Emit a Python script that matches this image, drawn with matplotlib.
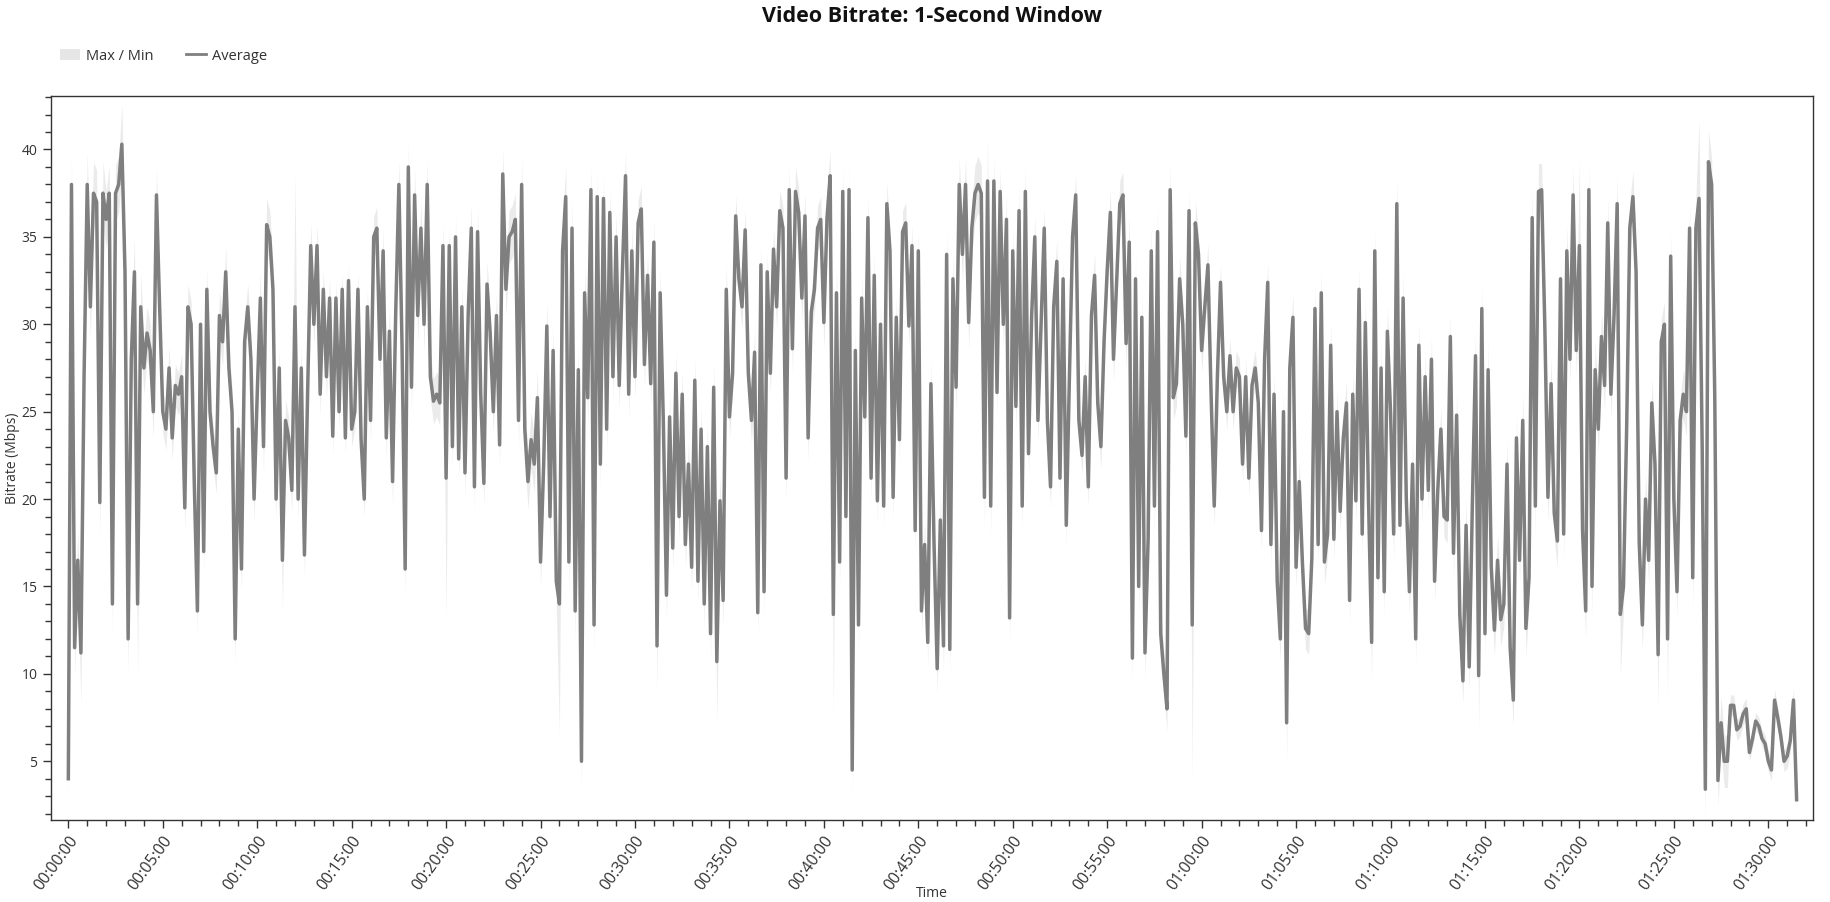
import numpy as np
import matplotlib
matplotlib.use("Agg")
import matplotlib.pyplot as plt
from matplotlib.patches import Patch
from matplotlib.lines import Line2D
from matplotlib.ticker import MultipleLocator, FuncFormatter

plt.rcParams["font.family"] = ["Open Sans", "DejaVu Sans"]

# average bitrate (Mbps), one value per 10 s, one row per minute
avg_mbps = [
    4.0, 38, 11.5, 16.5, 11.2, 27,
    38, 31, 37.5, 37, 19.8, 37.5,
    36, 37.5, 14, 37.5, 38, 40.3,
    33, 12, 28, 33, 14, 31,
    27.5, 29.5, 28.5, 25, 37.4, 31,
    25, 24, 27.5, 23.5, 26.5, 26,
    27, 19.5, 31, 30, 21, 13.6,
    30, 17, 32, 25, 23, 21.5,
    30.5, 29, 33, 27.5, 25, 12,
    24, 16, 29, 31, 28, 20,
    26, 31.5, 23, 35.7, 35, 32,
    20, 27.5, 16.5, 24.5, 23.5, 20.5,
    31, 20, 27.5, 16.8, 26, 34.5,
    30, 34.5, 26, 32, 27, 31.5,
    23.6, 31.5, 25, 32, 23.5, 32.5,
    24, 25, 32, 23.4, 20, 31,
    24.5, 35, 35.5, 28, 34.2, 23.5,
    29.6, 21, 30.7, 38, 28.8, 16,
    39, 26.4, 37.4, 30.5, 35.5, 30,
    38, 27, 25.6, 26, 25.5, 34.5,
    21.2, 34.5, 23, 35, 22.3, 31,
    21.5, 30.5, 35.5, 20.7, 35.3, 26,
    20.9, 32.3, 29.5, 25, 30.5, 23.1,
    38.6, 32, 35, 35.3, 36, 24.5,
    38, 24, 21, 23.4, 22, 25.8,
    16.4, 22, 29.9, 19, 28.5, 15.3,
    14, 34.2, 37.3, 16.4, 35.5, 13.6,
    27.4, 5, 31.8, 25.8, 37.7, 12.8,
    37.3, 22, 37.2, 24, 36.4, 27,
    35, 26.5, 33, 38.5, 26, 34.2,
    27, 35.8, 36.6, 27.7, 32.8, 26.6,
    34.7, 11.6, 31.8, 24.5, 14.5, 24.7,
    17.2, 27.2, 19, 26, 17.4, 22,
    16.1, 26.8, 15.3, 24, 14, 23,
    12.3, 26.4, 10.7, 19.9, 14.2, 32,
    24.7, 27.2, 36.2, 32.6, 31, 35.4,
    27.2, 24.5, 28.4, 13.5, 33.4, 14.7,
    33, 27.2, 34.3, 31, 36.5, 35.5,
    21.2, 37.7, 28.6, 37.6, 36.4, 31.5,
    36.2, 23.5, 30.7, 32, 35.5, 36,
    30.1, 36.1, 38.5, 13.4, 31.8, 16.4,
    37.6, 19, 37.7, 4.5, 28.5, 12.8,
    31.5, 24.7, 36.1, 21.2, 32.8, 19.9,
    30, 19.6, 36.9, 34.2, 20.1, 30.4,
    23.4, 35.3, 35.8, 29.9, 34.5, 18.2,
    34.2, 13.6, 17.4, 11.8, 26.6, 17.4,
    10.3, 18.8, 11.6, 34, 11.4, 32.6,
    26.4, 38, 34, 38, 30.1, 35.5,
    37.5, 38, 37.5, 20.1, 38.2, 19.6,
    38.2, 26.1, 37.6, 30, 36, 13.2,
    34.2, 25.3, 36.5, 19.6, 37.6, 22.6,
    30.5, 35, 24.5, 30, 35.5, 24.5,
    20.7, 31, 33.6, 21.2, 32.6, 18.5,
    27, 35, 37.4, 24.5, 22.5, 27,
    20.7, 30.5, 32.8, 25.5, 23, 29,
    33.1, 36.4, 28, 32.5, 36.9, 37.4,
    28.9, 34.7, 10.9, 32.6, 15, 30.4,
    11.2, 17.7, 34.2, 19.6, 35.3, 12.3,
    10, 8, 37.7, 25.8, 26.6, 32.6,
    30, 23.6, 36.5, 12.8, 35.8, 34,
    28.5, 31, 33.4, 26, 19.6, 27,
    32.4, 27, 25, 28.2, 25, 27.5,
    27, 22, 27, 21.2, 26.5, 27.5,
    25.5, 18.2, 28, 32.4, 17.4, 26,
    15.3, 12, 25, 7.2, 27.5, 30.4,
    16.1, 21, 16.4, 12.6, 12.3, 16.6,
    30.9, 17.4, 31.8, 16.4, 18, 28.8,
    17.7, 25, 19.3, 23.5, 25.5, 14.2,
    26, 19.9, 32, 18, 30.1, 20,
    11.8, 34.2, 15.5, 27.5, 14.7, 29.6,
    25, 18, 36.9, 18.5, 31.5, 20.1,
    14.7, 22, 12, 28.8, 20, 27,
    20.5, 28, 15.3, 20.5, 24, 19,
    18.8, 29.3, 16.9, 24.8, 13.4, 9.6,
    18.5, 10.4, 19.7, 28.2, 9.9, 30.9,
    12.3, 27.4, 16.1, 12.5, 16.5, 13.1,
    14, 22, 11.5, 8.5, 23.5, 16.5,
    24.5, 12.6, 15.5, 36.1, 19.6, 37.6,
    37.7, 30, 20.1, 26.6, 19.2, 17.6,
    32.6, 18, 34.2, 28, 37.4, 28.5,
    34.5, 18.2, 13.6, 37.7, 15, 27.4,
    24, 29.3, 26.5, 35.8, 26, 30.5,
    36.9, 13.4, 15, 24, 35.5, 37.3,
    33, 17.5, 12.8, 20, 16.5, 25.5,
    22, 11.1, 29, 30, 12, 33.9,
    20, 14.7, 24.5, 26, 25, 35.5,
    15.5, 35.5, 37.2, 23, 3.4, 39.3,
    38, 25.8, 3.9, 7.2, 5, 5,
    8.2, 8.2, 6.8, 7, 7.7, 8,
    5.5, 6.3, 7.3, 7, 6.3, 6,
    5, 4.5, 8.5, 7.5, 6.4, 5,
    5.3, 6.2, 8.5, 2.8,
]

# width of the light max/min halo around the average, per minute (Mbps)
halo_mbps = [
    1.5, 1.8, 1.6, 2.0, 1.5, 1.2, 1.3, 1.2, 1.4, 1.3,
    1.5, 1.2, 1.3, 1.2, 1.0, 1.0, 1.2, 1.4, 1.5, 1.3,
    1.2, 1.4, 1.3, 1.5, 1.6, 1.4, 1.8, 1.5, 1.3, 1.4,
    1.3, 1.4, 1.3, 1.3, 1.5, 1.2, 1.3, 1.2, 1.4, 1.3,
    1.5, 1.4, 1.3, 1.2, 1.2, 1.3, 1.4, 1.5, 1.6, 1.4,
    1.3, 1.2, 1.2, 1.1, 1.2, 1.3, 1.5, 1.4, 1.3, 1.2,
    1.2, 1.0, 1.0, 1.2, 1.3, 1.2, 1.3, 1.2, 1.3, 1.4,
    1.4, 1.3, 1.2, 1.3, 1.4, 1.5, 1.3, 1.6, 1.5, 1.4,
    1.6, 1.4, 1.5, 1.4, 1.3, 1.4, 1.8, 1.5, 0.6, 0.5,
    0.6, 0.7,
]

# isolated max / min excursions: (minute, Mbps)
max_spikes = [(2.83, 42.6), (12.0, 38.5), (23.0, 39.9), (24.0, 39.6),
              (48.67, 40.7), (58.33, 39.3), (70.33, 38.5), (79.67, 39.0),
              (80.0, 39.3), (86.33, 41.7), (86.83, 40.9)]
min_spikes = [(0.67, 8.2), (3.67, 9.9), (11.33, 13.6), (20.0, 13.1),
              (26.0, 6.6), (27.17, 4.5), (31.17, 8.8), (34.33, 7.2),
              (40.5, 7.7), (41.5, 3.1), (49.83, 12.3), (59.5, 3.9),
              (64.5, 5.0), (69.0, 9.6), (74.67, 6.6), (76.5, 7.0),
              (82.17, 9.9), (84.17, 8.0), (84.67, 8.5), (86.67, 2.6),
              (87.33, 2.8), (91.5, 2.1)]

step = 10  # seconds per sample
avg = np.array(avg_mbps, dtype=float)
t = np.arange(len(avg)) * step
halo = np.repeat(halo_mbps, 60 // step)[:len(avg)]
hi = avg + halo
lo = avg - halo
for m, v in max_spikes:
    i = int(round(m * 60 / step))
    hi[i] = max(hi[i], v)
for m, v in min_spikes:
    i = int(round(m * 60 / step))
    lo[i] = min(lo[i], v)

W, H = 1831, 902
fig = plt.figure(figsize=(W / 100, H / 100), dpi=100)
ax = fig.add_axes([50.7 / W, 1 - 820 / H, (1813 - 50.7) / W, (820 - 96) / H])

ax.fill_between(t, lo, hi, color="#ebebeb", lw=0)
ax.plot(t, avg, color="#7f7f7f", lw=2.5)

ax.set_xlim(-56, 5542)
ax.set_ylim(1.64, 43.06)

ax.xaxis.set_major_locator(MultipleLocator(300))
ax.xaxis.set_minor_locator(MultipleLocator(60))
ax.xaxis.set_major_formatter(FuncFormatter(
    lambda s, _: f"{int(s) // 3600:02d}:{int(s) % 3600 // 60:02d}:{int(s) % 60:02d}"))
ax.yaxis.set_major_locator(MultipleLocator(5))
ax.yaxis.set_minor_locator(MultipleLocator(1))

ax.tick_params(axis="both", which="major", labelsize=10, colors="#333333", length=6, width=1)
ax.tick_params(axis="both", which="minor", colors="#333333", length=4, width=1)
ax.tick_params(axis="x", which="major", labelsize=11.5)
for lab in ax.get_xticklabels():
    lab.set_rotation(54)
    lab.set_ha("right")
    lab.set_rotation_mode("anchor")

for sp in ax.spines.values():
    sp.set_color("#333333")
    sp.set_linewidth(1.0)

ax.set_ylabel("Bitrate (Mbps)", fontsize=10, color="#333333")
ax.yaxis.set_label_coords(-0.0174, 0.5)
fig.text(0.5088, 1 / H, "Time", ha="center", va="bottom", fontsize=10, color="#333333")

fig.text(0.5088, 1 - 16 / H, "Video Bitrate: 1-Second Window", ha="center", va="center",
         fontsize=15.5, fontweight="bold", color="#111111")

handles = [Patch(facecolor="#e6e6e6", edgecolor="none"),
           Line2D([0], [0], color="#7f7f7f", lw=2.0)]
fig.legend(handles, ["Max / Min", "Average"], loc="center left",
           bbox_to_anchor=(60 / W, 1 - 56 / H), ncol=2, frameon=False,
           fontsize=10.5, handlelength=1.4, handletextpad=0.4,
           columnspacing=2.2, borderpad=0, borderaxespad=0,
           labelcolor="#333333")

fig.savefig("out.png", dpi=100)
